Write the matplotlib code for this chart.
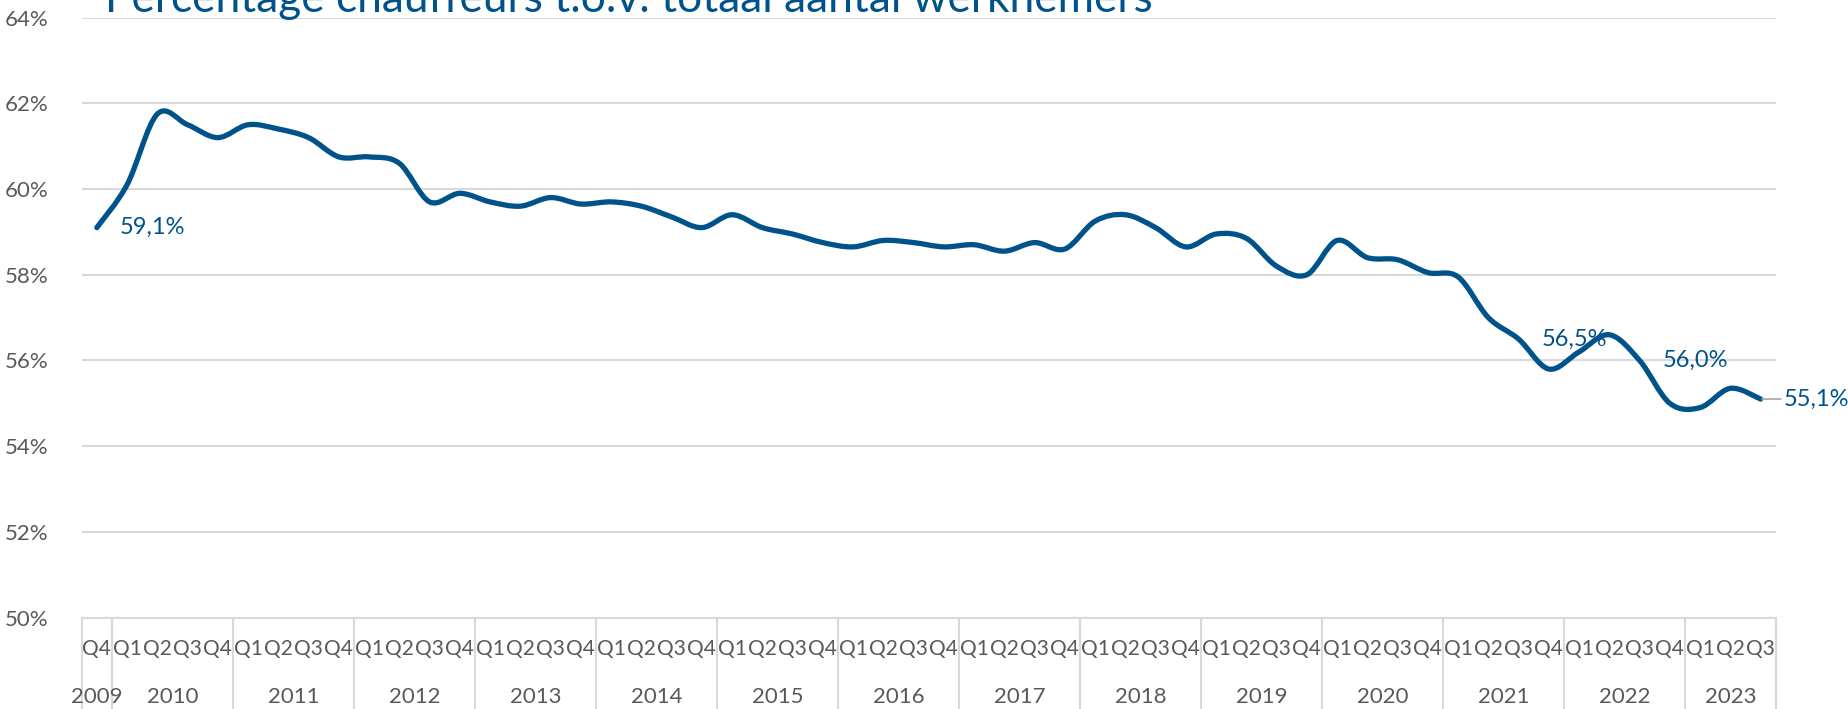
import matplotlib
matplotlib.use("Agg")
import matplotlib.pyplot as plt
from matplotlib.path import Path
from matplotlib.patches import PathPatch
import matplotlib.transforms as mtransforms

plt.rcParams['font.family'] = ['Lato', 'DejaVu Sans']

# data: kwartalen 2009 Q4 t/m 2023 Q3
years = ['2009', '2010', '2011', '2012', '2013', '2014', '2015', '2016',
         '2017', '2018', '2019', '2020', '2021', '2022', '2023']
quarters_per_year = [1, 4, 4, 4, 4, 4, 4, 4, 4, 4, 4, 4, 4, 4, 3]
first_quarter = [4, 1, 1, 1, 1, 1, 1, 1, 1, 1, 1, 1, 1, 1, 1]
pct = [59.1, 60.1, 61.75, 61.5, 61.2, 61.5, 61.4, 61.2, 60.75, 60.75,
       60.6, 59.7, 59.9, 59.7, 59.6, 59.8, 59.65, 59.7, 59.6, 59.35,
       59.1, 59.4, 59.1, 58.95, 58.75, 58.65, 58.8, 58.75, 58.65, 58.7,
       58.55, 58.75, 58.6, 59.25, 59.4, 59.1, 58.65, 58.95, 58.85, 58.2,
       58.0, 58.8, 58.4, 58.35, 58.05, 57.95, 57.0, 56.5, 55.8, 56.2,
       56.6, 56.0, 55.0, 54.9, 55.35, 55.1]
label_idx = [0, 47, 51, 55]

blue = '#00538A'
grey_txt = '#595959'
grid_c = '#D9D9D9'

W, H = 1849, 709
fig = plt.figure(figsize=(W / 100, H / 100), dpi=100)
left, right, top, bottom = 81.7, 1775.7, 17.6, 617.6
ax = fig.add_axes([left / W, (H - bottom) / H, (right - left) / W, (bottom - top) / H])

n = len(pct)
ax.set_xlim(-0.5, n - 0.5)
ax.set_ylim(50, 64)
ax.set_yticks(range(50, 65, 2))
ax.set_yticklabels([f'{v}%' for v in range(50, 65, 2)], fontsize=16, color=grey_txt)
ax.tick_params(axis='y', length=0, pad=24)
ax.set_xticks([])
ax.grid(axis='y', color=grid_c, linewidth=1.5)
ax.set_axisbelow(True)
for s in ['left', 'right', 'top']:
    ax.spines[s].set_visible(False)
ax.spines['bottom'].set_color(grid_c)
ax.spines['bottom'].set_linewidth(1.5)

# smoothed line (Excel-style Bezier through the points)
xs = list(range(n))
pts = list(zip(xs, pct))
verts = [pts[0]]
codes = [Path.MOVETO]
for i in range(n - 1):
    p0 = pts[i - 1] if i > 0 else pts[i]
    p1 = pts[i]
    p2 = pts[i + 1]
    p3 = pts[i + 2] if i + 2 < n else pts[i + 1]
    c1 = (p1[0] + (p2[0] - p0[0]) / 6, p1[1] + (p2[1] - p0[1]) / 6)
    c2 = (p2[0] - (p3[0] - p1[0]) / 6, p2[1] - (p3[1] - p1[1]) / 6)
    verts += [c1, c2, p2]
    codes += [Path.CURVE4] * 3
ax.add_patch(PathPatch(Path(verts, codes), facecolor='none', edgecolor=blue,
                       linewidth=3.8, capstyle='round', joinstyle='round', zorder=3))

# data labels
for i in label_idx:
    txt = f'{pct[i]:.1f}%'.replace('.', ',')
    if i == n - 1:
        ax.annotate(txt, (i, pct[i]), xytext=(23, 0), textcoords='offset pixels',
                    fontsize=17, color=blue, va='center', ha='left',
                    arrowprops=dict(arrowstyle='-', color='#A6A6A6', lw=1.2,
                                    shrinkA=0, shrinkB=1),
                    annotation_clip=False, zorder=4)
    else:
        ax.annotate(txt, (i, pct[i]), xytext=(23, 0), textcoords='offset pixels',
                    fontsize=17, color=blue, va='center', ha='left', zorder=4)

# category axis: quarters and years
trans = mtransforms.blended_transform_factory(ax.transData, ax.transAxes)
q_y = -(649 - bottom) / (bottom - top)
yr_y = -(696.7 - bottom) / (bottom - top)
end_y = -(H - bottom) / (bottom - top)
pos = 0
ax.plot([-0.5, -0.5], [0, end_y], transform=trans, color=grid_c, lw=1.5, clip_on=False)
for yr, cnt, fq in zip(years, quarters_per_year, first_quarter):
    for k in range(cnt):
        ax.text(pos + k, q_y, f'Q{fq + k}', transform=trans, ha='center', va='center',
                fontsize=15, color=grey_txt)
    ax.text(pos + (cnt - 1) / 2, yr_y, yr, transform=trans, ha='center', va='center',
            fontsize=16, color=grey_txt)
    pos += cnt
    ax.plot([pos - 0.5, pos - 0.5], [0, end_y], transform=trans, color=grid_c,
            lw=1.5, clip_on=False)

# title (partly cut off at the top, as in the original)
title = fig.text(105 / W, (H - 12.5) / H, 'Percentage chauffeurs t.o.v. totaal aantal werknemers',
                 fontsize=30, color=blue, ha='left', va='baseline')
fig.canvas.draw()
bb = title.get_window_extent()
title.set_fontsize(30 * 1046 / bb.width)

fig.savefig('out.png', dpi=100)
